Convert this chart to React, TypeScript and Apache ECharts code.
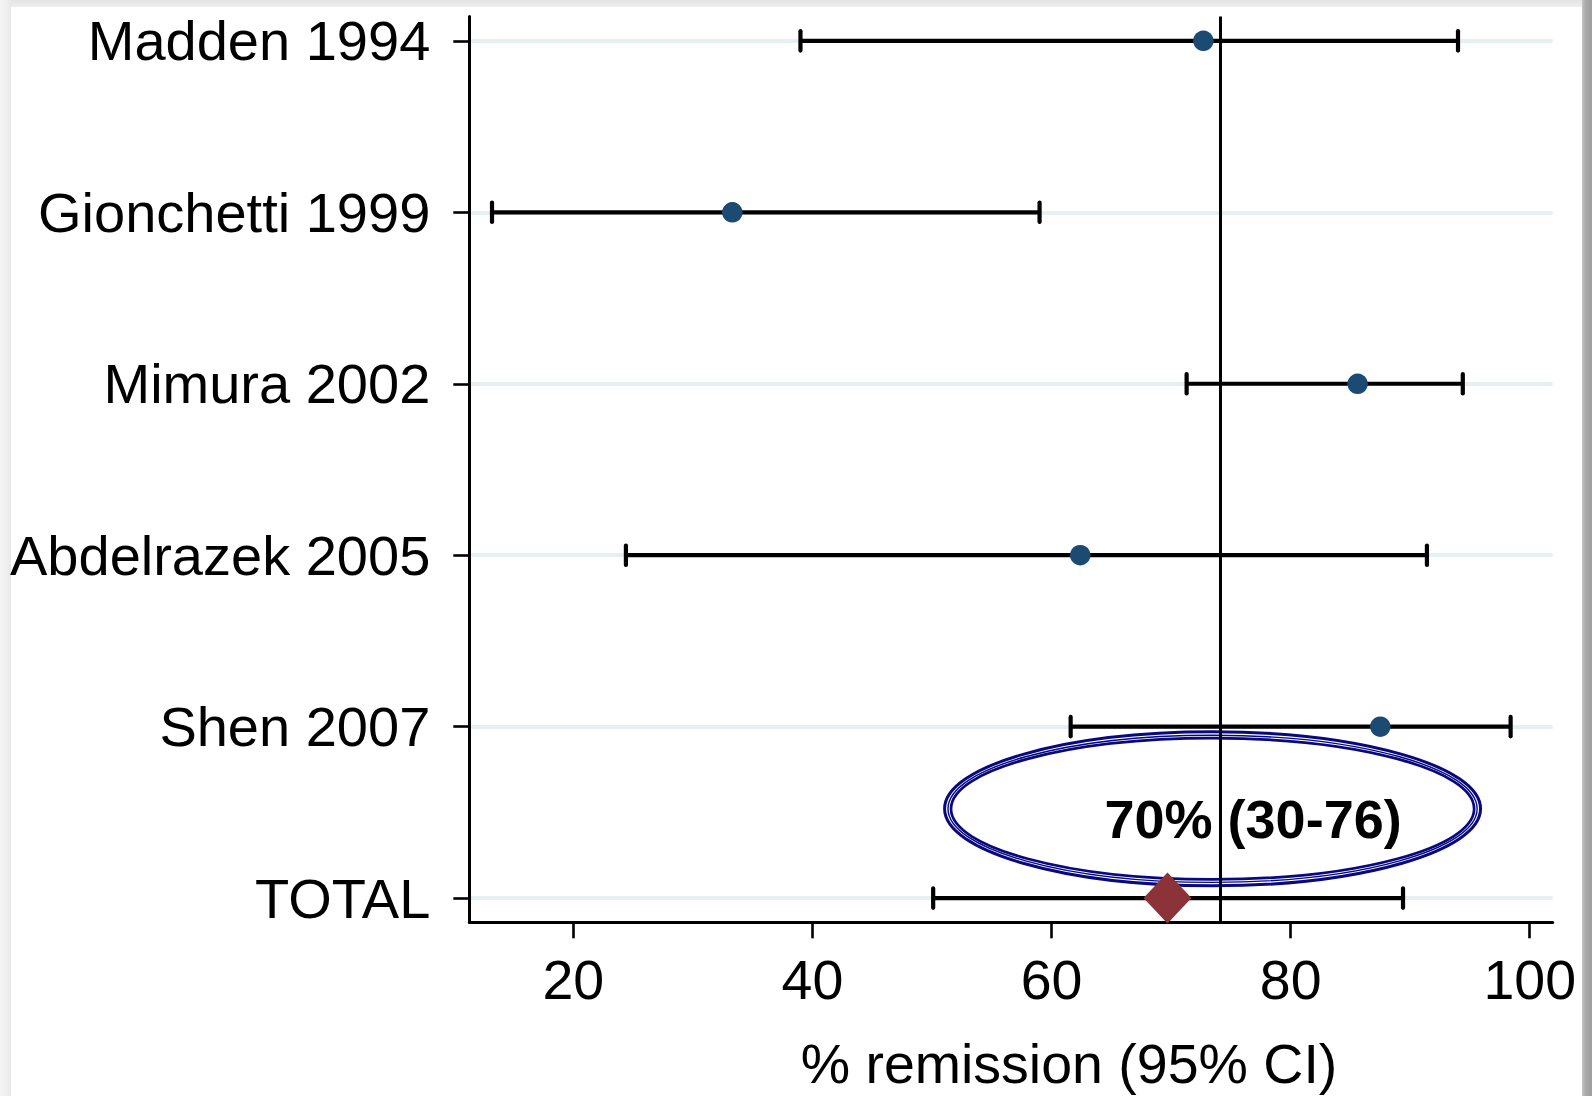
import React, { useEffect, useRef } from 'react';
import * as echarts from 'echarts';

// ---- data ----
const studies = ['Madden 1994', 'Gionchetti 1999', 'Mimura 2002', 'Abdelrazek 2005', 'Shen 2007', 'TOTAL'];
const estimates = [72.7, 33.3, 85.6, 62.4, 87.5];
const lowerCI = [39.0, 13.2, 71.3, 24.4, 61.6];
const upperCI = [94.0, 59.0, 94.4, 91.4, 98.4];
const pooledEstimate = 69.7;
const pooledLower = 50.1;
const pooledUpper = 89.4;
const referenceValue = 74.15;
const xTicks = [20, 40, 60, 80, 100];
const rowPositions = [1, 2, 3, 4, 5, 6];
const annotationText = '70% (30-76)';
const annotationCenter = [73.47, 5.479];
const annotationRadii = [22.54, 0.4577];
const annotationTextPos = [76.86, 5.541];
const axisTitle = '% remission (95% CI)';

const FONT = "'Liberation Sans', Arial, Helvetica, sans-serif";

export default function App() {
  const ref = useRef<HTMLDivElement>(null);
  useEffect(() => {
    document.body.style.margin = '0';
    const chart = echarts.init(ref.current!, undefined, { renderer: 'svg' });

    const barData = studies.map((_, i) =>
      i < estimates.length ? [lowerCI[i], upperCI[i], rowPositions[i]] : [pooledLower, pooledUpper, rowPositions[i]]
    );
    const pointData = estimates.map((v, i) => [v, rowPositions[i]]);
    const pooledData = [[pooledEstimate, rowPositions[5]]];

    const option: any = {
      animation: false,
      backgroundColor: '#ffffff',
      grid: { left: 469.3, right: 39.3, top: 16.5, bottom: 173.7, containLabel: false },
      xAxis: {
        type: 'value',
        min: 11.3,
        max: 101.92,
        axisLine: { show: true, lineStyle: { color: '#000', width: 3 } },
        axisTick: { show: true, customValues: xTicks, length: 16, lineStyle: { color: '#000', width: 2.6 } },
        axisLabel: {
          customValues: xTicks,
          fontSize: 55.5,
          fontFamily: FONT,
          color: '#000',
          margin: 30,
        },
        splitLine: { show: false },
      },
      yAxis: {
        type: 'value',
        min: 0.858,
        max: 6.141,
        inverse: true,
        axisLine: { show: true, lineStyle: { color: '#000', width: 3 } },
        axisTick: { show: true, customValues: rowPositions, length: 16, lineStyle: { color: '#000', width: 2.6 } },
        axisLabel: {
          customValues: rowPositions,
          formatter: (v: number) => studies[Math.round(v) - 1] ?? '',
          fontSize: 56,
          fontFamily: FONT,
          color: '#000',
          margin: 39,
        },
        splitLine: { show: true, lineStyle: { color: '#e6eff1', width: 4 } },
      },
      graphic: [
        {
          type: 'rect',
          shape: { x: 0, y: 0, width: 1592, height: 7 },
          style: {
            fill: new echarts.graphic.LinearGradient(0, 0, 0, 1, [
              { offset: 0, color: '#e4e4e4' },
              { offset: 1, color: '#efefef' },
            ]),
          },
          silent: true,
        },
        {
          type: 'rect',
          shape: { x: 0, y: 0, width: 11, height: 1096 },
          style: {
            fill: new echarts.graphic.LinearGradient(0, 0, 1, 0, [
              { offset: 0, color: '#f4f4f4' },
              { offset: 0.6, color: '#eeeeee' },
              { offset: 1, color: '#e9e9e9' },
            ]),
          },
          silent: true,
        },
        {
          type: 'rect',
          shape: { x: 1582, y: 0, width: 10, height: 1096 },
          style: {
            fill: new echarts.graphic.LinearGradient(0, 0, 1, 0, [
              { offset: 0, color: '#c4c4c4' },
              { offset: 0.4, color: '#a8a8a8' },
              { offset: 1, color: '#9e9e9e' },
            ]),
          },
          silent: true,
        },
        {
          type: 'text',
          x: 1069,
          y: 1064,
          style: {
            text: axisTitle,
            font: `55.5px ${FONT}`,
            fill: '#000',
            align: 'center',
            verticalAlign: 'middle',
          },
          silent: true,
        },
      ],
      series: [
        {
          type: 'custom',
          name: 'ci',
          data: barData,
          encode: { x: [0, 1], y: 2 },
          z: 3,
          renderItem: (params: any, api: any) => {
            const y = api.value(2);
            const p1 = api.coord([api.value(0), y]);
            const p2 = api.coord([api.value(1), y]);
            const h = 9.7;
            const st = { stroke: '#000', lineWidth: 4.2, lineCap: 'round' };
            return {
              type: 'group',
              children: [
                { type: 'line', shape: { x1: p1[0], y1: p1[1], x2: p2[0], y2: p2[1] }, style: { stroke: '#000', lineWidth: 4.2 } },
                { type: 'line', shape: { x1: p1[0], y1: p1[1] - h, x2: p1[0], y2: p1[1] + h }, style: st },
                { type: 'line', shape: { x1: p2[0], y1: p2[1] - h, x2: p2[0], y2: p2[1] + h }, style: st },
              ],
            };
          },
        },
        {
          type: 'custom',
          name: 'annotation',
          data: [[annotationCenter[0], annotationCenter[1], annotationTextPos[0], annotationTextPos[1]]],
          encode: { x: 0, y: 1 },
          z: 4,
          clip: false,
          renderItem: (params: any, api: any) => {
            const c = api.coord([api.value(0), api.value(1)]);
            const t = api.coord([api.value(2), api.value(3)]);
            const sz = api.size([annotationRadii[0], annotationRadii[1]]);
            const rx = sz[0];
            const ry = sz[1];
            const navy = '#08087f';
            const ring = (d: number, w: number) => ({
              type: 'ellipse',
              shape: { cx: c[0], cy: c[1], rx: rx - d, ry: ry - d },
              style: { fill: 'none', stroke: navy, lineWidth: w },
            });
            return {
              type: 'group',
              children: [
                ring(1.5, 3),
                ring(4.9, 1.4),
                ring(7.9, 2.7),
                {
                  type: 'text',
                  x: t[0],
                  y: t[1],
                  style: {
                    text: annotationText,
                    font: `bold 54px ${FONT}`,
                    fill: '#000',
                    align: 'center',
                    verticalAlign: 'middle',
                  },
                },
              ],
            };
          },
        },
        {
          type: 'scatter',
          name: 'estimate',
          data: pointData,
          symbol: 'circle',
          symbolSize: 20.5,
          itemStyle: { color: '#1b4a73', opacity: 1 },
          z: 5,
        },
        {
          type: 'scatter',
          name: 'pooled',
          data: pooledData,
          symbol: 'diamond',
          symbolSize: [48, 51],
          itemStyle: { color: '#8b3338', opacity: 1 },
          z: 5,
          markLine: {
            silent: true,
            symbol: 'none',
            label: { show: false },
            lineStyle: { color: '#000', width: 3, type: 'solid' },
            data: [{ xAxis: referenceValue }],
            z: 6,
          },
        },
      ],
    };

    chart.setOption(option);
    return () => chart.dispose();
  }, []);

  return <div ref={ref} style={{ width: 1592, height: 1096 }} />;
}
